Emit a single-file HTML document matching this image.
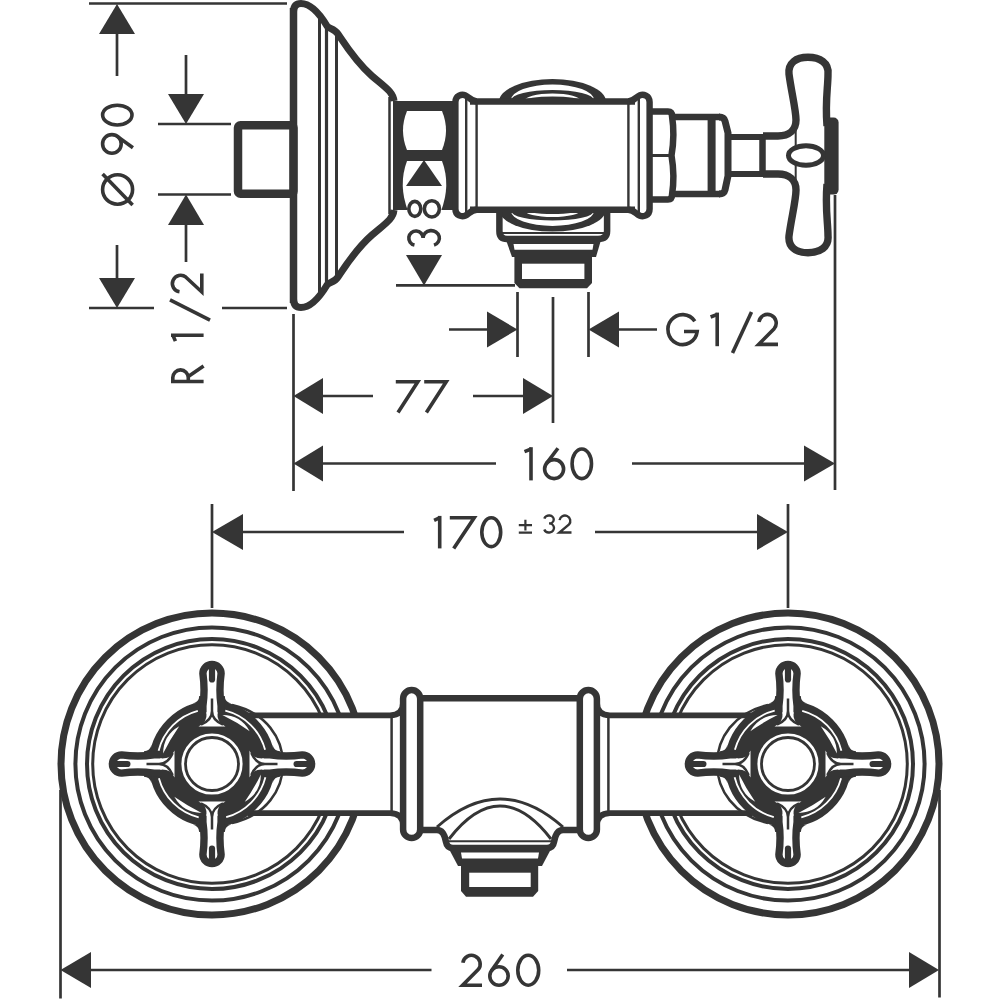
<!DOCTYPE html>
<html><head><meta charset="utf-8"><title>Drawing</title>
<style>
html,body{margin:0;padding:0;background:#fff;width:1000px;height:1000px;overflow:hidden}
svg{display:block}
</style></head><body>
<svg width="1000" height="1000" viewBox="0 0 1000 1000">
<defs>
<g id="arm">
  <path d="M-12.8,-68 Q-12.8,-62.5 -19,-60.5 L19,-60.5 Q12.8,-62.5 12.8,-68 Z" fill="#353535"/>
  <path d="M-9.1,-50 L-9.1,-58 Q-6.8,-74 -9.1,-90.5 A9.1,9.1 0 0 1 9.1,-90.5 Q6.8,-74 9.1,-58 L9.1,-50" fill="#fff" stroke="#353535" stroke-width="7.4"/>
  <path d="M-3.1,-97 L-3.1,-84.6 A3.1,3.1 0 0 0 3.1,-84.6 L3.1,-97 Z" fill="#353535"/>
  <path d="M-5.5,-52 Q-4.5,-41 -13.5,-37.5 L13.5,-37.5 Q4.5,-41 5.5,-52 Z" fill="#fff"/>
  <path d="M0,-65.5 L0,-53 Q0,-44 -11,-39.3 M0,-53 Q0,-44 11,-39.3" fill="none" stroke="#353535" stroke-width="2.5"/>
  <path d="M-14.2,-53.1 A55,55 0 0 0 -53.4,-13.3" fill="none" stroke="#fff" stroke-width="1.8"/>
  <path d="M-32.8,-37.7 Q-48.8,-28.7 -48.9,-10.4 Q-41.9,-24.7 -32.8,-37.7 Z" fill="#fff"/>
</g>
<g id="cross">
  <circle r="46.8" fill="none" stroke="#353535" stroke-width="32.4"/>
  <use href="#arm"/>
  <use href="#arm" transform="rotate(90)"/>
  <use href="#arm" transform="rotate(180)"/>
  <use href="#arm" transform="rotate(270)"/>
  <circle r="26.5" fill="#fff" stroke="#353535" stroke-width="2.8"/>
</g>
<g id="side">
  <g fill="none" stroke="#353535">
    <circle cx="212" cy="764" r="151" stroke-width="7"/>
    <circle cx="212" cy="764" r="136.6" stroke-width="4"/>
    <circle cx="212" cy="764" r="125" stroke-width="4"/>
    <circle cx="212" cy="764" r="119.3" stroke-width="3"/>
  </g>
  <rect x="248" y="715" width="156" height="98" fill="#fff"/>
  <g fill="none" stroke="#353535">
    <path d="M248,715.3 L390,715.3 Q403.1,715.3 403.1,702" stroke-width="5.8"/>
    <path d="M248,813.1 L390,813.1 Q403.1,813.1 403.1,826" stroke-width="5.8"/>
    <line x1="391.6" y1="717" x2="391.6" y2="811" stroke-width="2.5"/>
    <path d="M232,705 C300,720 300,808 232,823" stroke-width="2.5"/>
  </g>
  <use href="#cross" transform="translate(212,764)"/>
  <rect x="403.1" y="690.1" width="17.1" height="147.9" rx="8.55" fill="#fff" stroke="#353535" stroke-width="6.5"/>
</g>
</defs>

<!-- ============ TOP VIEW ============ -->
<g fill="none" stroke="#353535">
  <!-- dimension lines -->
  <g stroke-width="2.7">
    <line x1="89" y1="3.5" x2="287" y2="3.5"/>
    <line x1="89" y1="308" x2="154" y2="308"/>
    <line x1="222" y1="308" x2="287" y2="308"/>
    <line x1="117" y1="34" x2="117" y2="76"/>
    <line x1="117" y1="245" x2="117" y2="278"/>
    <line x1="158" y1="124" x2="231" y2="124"/>
    <line x1="158" y1="194.5" x2="231" y2="194.5"/>
    <line x1="186" y1="55" x2="186" y2="94"/>
    <line x1="186" y1="225" x2="186" y2="262"/>
    <line x1="396" y1="285.4" x2="515" y2="285.4"/>
    <line x1="449" y1="329.5" x2="487" y2="329.5"/>
    <line x1="619" y1="329.5" x2="657" y2="329.5"/>
    <line x1="517.5" y1="292" x2="517.5" y2="357"/>
    <line x1="588.5" y1="292" x2="588.5" y2="357"/>
    <line x1="553" y1="297" x2="553" y2="423"/>
    <line x1="323" y1="396" x2="373" y2="396"/>
    <line x1="473" y1="396" x2="523" y2="396"/>
    <line x1="323" y1="463.5" x2="496" y2="463.5"/>
    <line x1="632" y1="463.5" x2="804" y2="463.5"/>
    <line x1="293.5" y1="314" x2="293.5" y2="491"/>
    <line x1="835" y1="195" x2="835" y2="490"/>
    <line x1="212" y1="504" x2="212" y2="608"/>
    <line x1="788" y1="504" x2="788" y2="608"/>
    <line x1="243" y1="532" x2="404" y2="532"/>
    <line x1="595" y1="532" x2="757" y2="532"/>
    <line x1="60.5" y1="790" x2="60.5" y2="998.5"/>
    <line x1="939.5" y1="790" x2="939.5" y2="997.5"/>
    <line x1="91" y1="970" x2="431.5" y2="970"/>
    <line x1="567" y1="970" x2="909" y2="970"/>
  </g>
</g>
<g fill="#353535">
  <polygon points="117,4 99,34 135,34"/>
  <polygon points="117,308 99,278 135,278"/>
  <polygon points="186,124 168,94 204,94"/>
  <polygon points="186,194.5 168,225 204,225"/>
  <polygon points="424,285.4 406,255 442,255"/>
  <polygon points="517.5,329.5 487,311.5 487,347.5"/>
  <polygon points="588.5,329.5 619,311.5 619,347.5"/>
  <polygon points="293.5,396 323,378 323,414"/>
  <polygon points="553,396 523,378 523,414"/>
  <polygon points="293.5,463.5 323,445.5 323,481.5"/>
  <polygon points="835,463.5 804,445.5 804,481.5"/>
  <polygon points="212,532 243,514 243,550"/>
  <polygon points="788,532 757,514 757,550"/>
  <polygon points="60.5,970 91,952 91,988"/>
  <polygon points="939,970 909,952 909,988"/>
</g>

<!-- plate -->
<g fill="none" stroke="#353535">
  <path d="M293.5,303 L293.5,8" stroke-width="7.5"/>
  <path d="M293.5,12 Q293.5,3.5 301,3.5 C310,3.5 318,11 327,26 C329,29 334,28 338,34 C346,46 356,62 372,76 C386,88 393,92 394,101" stroke-width="7"/>
  <path d="M293.5,299 Q293.5,307.5 301,307.5 C310,307.5 318,300 327,285 C329,282 334,283 338,277 C346,265 356,249 372,235 C386,223 393,219 394,210" stroke-width="7"/>
  <rect x="238" y="125.2" width="55.5" height="68.6" rx="2.5" stroke-width="8.5"/>
  <line x1="319.5" y1="17" x2="319.5" y2="294" stroke-width="3"/>
  <line x1="326.5" y1="26" x2="326.5" y2="285" stroke-width="3.2"/>
  <line x1="336.5" y1="33" x2="336.5" y2="278" stroke-width="3"/>
  <line x1="389.5" y1="97" x2="389.5" y2="214" stroke-width="2.5"/>
</g>
<!-- nut with lenses -->
<rect x="393" y="101" width="65" height="109" fill="#353535"/>
<path d="M407,111 L442,111 Q450,130.5 442,150 L407,150 Q399,130.5 407,111Z" fill="#fff"/>
<path d="M407,161 L442,161 Q451,185 441,211 L408,211 Q398,185 407,161Z" fill="#fff"/>
<polygon points="424,160 406,186 442,186" fill="#353535"/>

<!-- body top view -->
<path d="M499,101.6 A53.5,22.5 0 0 1 606,101.6 Z" fill="#353535"/>
<path d="M511,100 A41.5,15.5 0 0 1 594,100 A41.5,10 0 0 0 511,100 Z" fill="#fff"/>
<path d="M524,101 A28.5,7.5 0 0 1 581,101 A28.5,4.5 0 0 0 524,101 Z" fill="#fff"/>
<path d="M499,209.6 A53.5,22 0 0 0 606,209.6 Z" fill="#353535"/>
<path d="M511,211 A41.5,15 0 0 0 594,211 A41.5,9.5 0 0 1 511,211 Z" fill="#fff"/>
<path d="M524,210 A28.5,7 0 0 0 581,210 A28.5,4 0 0 1 524,210 Z" fill="#fff"/>
<g fill="none" stroke="#353535">
  <line x1="470" y1="101.4" x2="635" y2="101.4" stroke-width="6.5"/>
  <line x1="470" y1="209.8" x2="635" y2="209.8" stroke-width="6.5"/>
  <g id="beadL">
    <path d="M455.4,209 L455.4,102 C455.4,95 462,94 465,95.2 C469,96.8 471,101.4 477,101.4" stroke-width="6.4"/>
    <path d="M455.4,209 C455.4,216 462,217 465,215.8 C469,214.2 471,209.8 477,209.8" stroke-width="6.4"/>
    <line x1="466.2" y1="99" x2="466.2" y2="212" stroke-width="2.4"/>
    <line x1="476.6" y1="101" x2="476.6" y2="210" stroke-width="2.4"/>
  </g>
  <use href="#beadL" transform="translate(1105,0) scale(-1,1)"/>
  <!-- housing -->
  <path d="M499.4,212 L499.4,231 Q499.4,239 507,239 L598,239 Q607.1,239 607.1,231 L607.1,212" stroke-width="6.5"/>
  <line x1="502" y1="233" x2="604" y2="233" stroke-width="2"/>
</g>
<path d="M506,240 L601,240 L596,257 L512,257 Z" fill="#353535"/>
<path d="M513.5,244 L593.5,244 L592.5,249.7 L514.5,249.7 Z" fill="#fff"/>
<path d="M514.4,256 L592,256 L592,283 L587,288.2 L519.5,288.2 L514.4,283 Z" fill="#353535"/>
<rect x="522" y="263.7" width="62.4" height="15.3" fill="#fff"/>

<!-- right nut, collar, spindle, handle -->
<g fill="none" stroke="#353535">
  <path d="M651,111.6 L668,111.6 Q672,111.6 672,116 Q675,135 671.5,155.5 Q675,176 672,195 Q672,199.4 668,199.4 L651,199.4" stroke-width="6.5"/>
  <line x1="652" y1="155.5" x2="671" y2="155.5" stroke-width="3"/>
  <line x1="672" y1="117" x2="720" y2="117" stroke-width="6.5"/>
  <line x1="672" y1="194" x2="720" y2="194" stroke-width="6.5"/>
  <path d="M719,117 Q724,117 725,121 L728,133 L728,176 L725,190 Q724,194 719,194" stroke-width="7"/>
  <line x1="711.6" y1="117" x2="711.6" y2="194" stroke-width="8"/>
  <line x1="728" y1="137" x2="763" y2="137" stroke-width="6"/>
  <line x1="728" y1="174" x2="763" y2="174" stroke-width="6"/>
  <line x1="762.5" y1="134" x2="762.5" y2="176.5" stroke-width="6.5"/>
  <path d="M763,136 L778,136 C789,136 796,130 796,120 C796,110 791,90 789,74 C788,63 796,57.3 808,57.3 C820,57.3 829,63 828,74 C828,88 825,100 827,126" stroke-width="7.4"/>
  <path d="M763,174 L778,174 C789,174 796,180 796,190 C796,200 791,220 789,236 C788,247 796,252.7 808,252.7 C820,252.7 829,247 828,236 C828,222 825,210 827,184" stroke-width="7.4"/>
  <line x1="795.7" y1="125" x2="795.7" y2="188" stroke-width="2"/>
</g>
<rect x="824.3" y="117.6" width="14.3" height="77" rx="5" fill="#353535"/>
<ellipse cx="806" cy="155.5" rx="17.5" ry="9.7" fill="#fff" stroke="#353535" stroke-width="5"/>

<!-- ============ BOTTOM VIEW ============ -->
<use href="#side"/>
<use href="#side" transform="translate(1000,0) scale(-1,1)"/>
<g fill="none" stroke="#353535">
  <line x1="420" y1="698.2" x2="580" y2="698.2" stroke-width="6.5"/>
  <path d="M420,830 L437,830 C443,830 445,836 446,842 Q447,848 453,848 L547,848 Q553,848 554,842 C555,836 557,830 563,830 L580,830" stroke-width="6.5"/>
  <path d="M437,827 Q500,771 563,827" stroke-width="3"/>
  <path d="M449,839 Q500,773 551,839" stroke-width="3"/>
  <line x1="449" y1="841.3" x2="551" y2="841.3" stroke-width="2"/>
</g>
<path d="M449,849 L551,849 L542,866 L458,866 Z" fill="#353535"/>
<path d="M461,852.5 L539,852.5 L538,858.5 L462,858.5 Z" fill="#fff"/>
<path d="M461,866 L538.2,866 L538.2,891 L533,896.7 L466,896.7 L461,891 Z" fill="#353535"/>
<rect x="469.2" y="872.7" width="61.5" height="14.3" fill="#fff"/>


<g fill="none" stroke="#353535" stroke-linecap="butt">
<g transform="translate(134.4,206) rotate(-90)" stroke-width="3.6"><ellipse cx="16.5" cy="-16.8" rx="14.7" ry="15"/><path d="M1.08,-1.8 L31.92,-31.8"/></g>
<g transform="translate(134,155) rotate(-90)" stroke-width="3.6"><g transform="rotate(180 11.1 -16.6)"><circle cx="11.1" cy="-11.1" r="9.3"/><path d="M14.87,-32.12 L3.57,-16.55"/></g></g>
<g transform="translate(133.8,126.8) rotate(-90)" stroke-width="3.6"><ellipse cx="11.7" cy="-16.5" rx="9.9" ry="14.7"/></g>
<g transform="translate(203.6,383.3) rotate(-90)" stroke-width="3.6"><path d="M1.8,0 L1.8,-30.8 L5.71,-30.8 A7.69,7.74 0 0 1 5.71,-15.32 L1.8,-15.32"/><path d="M6.71,-15.32 L17.22,0"/></g>
<g transform="translate(203.6,341.7) rotate(-90)" stroke-width="3.6"><path d="M6.5,0 L6.5,-32.6"/><path d="M6.7,-30.8 L0.6,-28.2"/></g>
<path d="M210,320.2 L170,299.8" stroke-width="3.6"/>
<g transform="translate(203.6,293.6) rotate(-90)" stroke-width="3.6"><path d="M1.88,-24.1 A8.25,8.25 0 1 1 16.37,-17.65 L1.62,-1.8 L20.1,-1.8" stroke-linejoin="miter"/></g>
<g transform="translate(441,247.2) rotate(-90)" stroke-width="3.6"><path d="M2.12,-26.54 A7.14,7.14 0 1 1 9.1,-17.91 A7.5,8.16 0 1 1 2.05,-6.97"/></g>
<g transform="translate(441,218.6) rotate(-90)" stroke-width="3.6"><ellipse cx="9.75" cy="-26.19" rx="7.52" ry="6"/><ellipse cx="9.75" cy="-9.13" rx="8.15" ry="7.53"/></g>
<g transform="translate(666,346.2)" stroke-width="3.6"><path d="M28.83,-24.97 A14.7,15 0 1 0 31.2,-14.7 L18,-14.7"/></g>
<g transform="translate(710,346.2)" stroke-width="3.6"><path d="M7.2,0 L7.2,-33.6"/><path d="M7.4,-31.8 L0.6,-29.2"/></g>
<path d="M732.5,353 L751.5,312" stroke-width="3.6"/>
<g transform="translate(757,346.2)" stroke-width="3.6"><path d="M1.88,-24.31 A8.7,8.7 0 1 1 17.16,-17.51 L1.62,-1.8 L21,-1.8" stroke-linejoin="miter"/></g>
<g transform="translate(395.8,412.4)" stroke-width="3.6"><path d="M0,-30.6 L22.02,-30.6 L2.2,0" stroke-linejoin="miter" stroke-miterlimit="10"/></g>
<g transform="translate(424.2,412.4)" stroke-width="3.6"><path d="M0,-30.6 L22.02,-30.6 L2.2,0" stroke-linejoin="miter" stroke-miterlimit="10"/></g>
<g transform="translate(523.9,480.4)" stroke-width="3.6"><path d="M7.1,0 L7.1,-33.2"/><path d="M7.3,-31.4 L0.6,-28.8"/></g>
<g transform="translate(542.8,480.4)" stroke-width="3.6"><circle cx="11.3" cy="-11.3" r="9.5"/><path d="M15.14,-32.12 L3.71,-17.02"/></g>
<g transform="translate(570.3,480.4)" stroke-width="3.6"><ellipse cx="11.5" cy="-16.6" rx="9.7" ry="14.8"/></g>
<g transform="translate(433.5,548.4)" stroke-width="3.6"><path d="M6.2,0 L6.2,-32.5"/><path d="M6.4,-30.7 L0.6,-28.1"/></g>
<g transform="translate(449.8,548.4)" stroke-width="3.6"><path d="M0,-30.7 L24.42,-30.7 L3.9,0" stroke-linejoin="miter" stroke-miterlimit="10"/></g>
<g transform="translate(480,548.4)" stroke-width="3.6"><ellipse cx="11.25" cy="-16.25" rx="9.45" ry="14.45"/></g>
<path d="M518.8,525.2 L532,525.2 M525.4,519.7 L525.4,530.4 M518.8,532.6 L532,532.6" stroke-width="2.2"/>
<g transform="translate(542.8,533.7)" stroke-width="2.4"><path d="M1.55,-15.06 A4.75,3.96 0 1 1 6.2,-10.28 A5,4.54 0 1 1 1.5,-4.19"/></g>
<g transform="translate(558.3,533.7)" stroke-width="2.4"><path d="M1.25,-13.55 A5.4,5.4 0 1 1 10.74,-9.33 L1.08,-1.2 L13.2,-1.2" stroke-linejoin="miter"/></g>
<g transform="translate(461,987)" stroke-width="3.6"><path d="M1.88,-24.21 A8.7,8.7 0 1 1 17.16,-17.41 L1.62,-1.8 L21,-1.8" stroke-linejoin="miter"/></g>
<g transform="translate(488,987)" stroke-width="3.6"><circle cx="11" cy="-11" r="9.2"/><path d="M14.74,-32.42 L3.45,-16.25"/></g>
<g transform="translate(516,987)" stroke-width="3.6"><ellipse cx="12.25" cy="-16.75" rx="10.45" ry="14.95"/></g>
</g>
</svg>
</body></html>
